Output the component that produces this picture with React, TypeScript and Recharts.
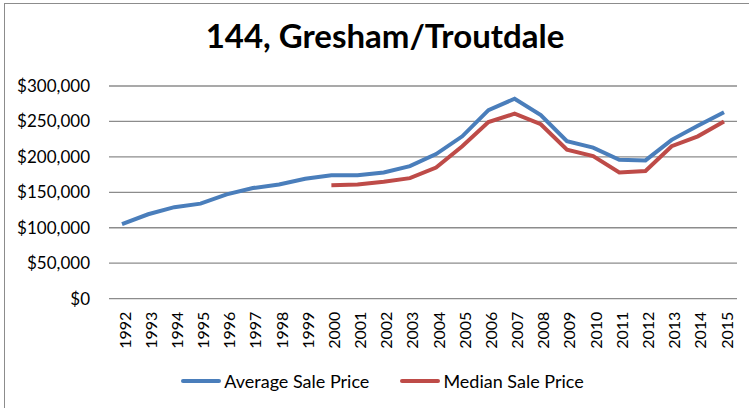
import { LineChart, Line, XAxis, YAxis, CartesianGrid, Legend } from "recharts";

const years = [
  "1992", "1993", "1994", "1995", "1996", "1997", "1998", "1999", "2000", "2001", "2002", "2003",
  "2004", "2005", "2006", "2007", "2008", "2009", "2010", "2011", "2012", "2013", "2014", "2015",
];

const averagePrice = [
  105000, 119000, 129000, 134000, 147000, 156000, 161000, 169000, 174000, 174000, 178000, 187000,
  204000, 229000, 266000, 282000, 259000, 222000, 213000, 196000, 195000, 224000, 244000, 263000,
];

const medianPrice: (number | null)[] = [
  null, null, null, null, null, null, null, null, 160000, 161000, 165000, 170000,
  185000, 215000, 249000, 261000, 246000, 210000, 201000, 178000, 180000, 215000, 229000, 250000,
];

const yTicks = [0, 50000, 100000, 150000, 200000, 250000, 300000];

const data = years.map((y, i) => ({ year: y, avg: averagePrice[i], median: medianPrice[i] }));

const font = "Lato, 'Open Sans', sans-serif";

const money = (v: number) => "$" + v.toLocaleString("en-US");

function YearTick(props: any) {
  const { x, y, payload } = props;
  return (
    <text
      transform={`translate(${x + 2},${y + 5}) rotate(-90)`}
      textAnchor="end"
      dominantBaseline="central"
      fontSize={16}
      fill="#000"
      fontFamily={font}
    >
      {payload.value}
    </text>
  );
}

function LegendBox(props: any) {
  const items = props.payload || [];
  return (
    <div
      style={{
        display: "flex",
        justifyContent: "center",
        alignItems: "center",
        gap: 31,
        paddingLeft: 18,
        height: 30,
        fontFamily: font,
        fontSize: 18,
        color: "#000",
      }}
    >
      {items.map((it: any) => (
        <div key={it.value} style={{ display: "flex", alignItems: "center" }}>
          <span
            style={{
              display: "inline-block",
              width: 40,
              height: 4,
              borderRadius: 2,
              background: it.color,
              marginRight: 3,
            }}
          />
          <span>{it.value}</span>
        </div>
      ))}
    </div>
  );
}

export default function App() {
  return (
    <div
      style={{
        position: "fixed",
        left: 0,
        top: 0,
        width: 749,
        height: 408,
        background: "#fff",
        overflow: "hidden",
        fontFamily: font,
      }}
    >
      <div
        style={{
          position: "absolute",
          left: 4,
          top: 3,
          width: 760,
          height: 420,
          border: "1.5px solid #8c8c8c",
        }}
      />
      <div
        style={{
          position: "absolute",
          left: 0,
          top: 15,
          width: 770,
          textAlign: "center",
          fontSize: 33,
          fontWeight: 700,
          color: "#000",
        }}
      >
        144, Gresham/Troutdale
      </div>
      <LineChart
        width={749}
        height={408}
        data={data}
        margin={{ top: 86, right: 12, bottom: 12, left: 10 }}
        style={{ position: "absolute", left: 0, top: 0 }}
      >
        <CartesianGrid vertical={false} stroke="#8c8c8c" strokeWidth={1.3} />
        <XAxis
          dataKey="year"
          interval={0}
          axisLine={false}
          tickLine={false}
          height={67.4}
          padding={{ left: 13, right: 13 }}
          tick={<YearTick />}
        />
        <YAxis
          domain={[0, 300000]}
          ticks={yTicks}
          tickFormatter={money}
          axisLine={false}
          tickLine={false}
          width={99}
          dx={-11}
          tick={{ fontSize: 17, fill: "#000", fontFamily: font }}
        />
        <Legend verticalAlign="bottom" height={30} content={<LegendBox />} />
        <Line
          name="Average Sale Price"
          dataKey="avg"
          stroke="#4a7ebb"
          strokeWidth={4}
          dot={false}
          isAnimationActive={false}
          type="linear"
        />
        <Line
          name="Median Sale Price"
          dataKey="median"
          stroke="#be4b48"
          strokeWidth={4}
          dot={false}
          isAnimationActive={false}
          type="linear"
        />
      </LineChart>
    </div>
  );
}
